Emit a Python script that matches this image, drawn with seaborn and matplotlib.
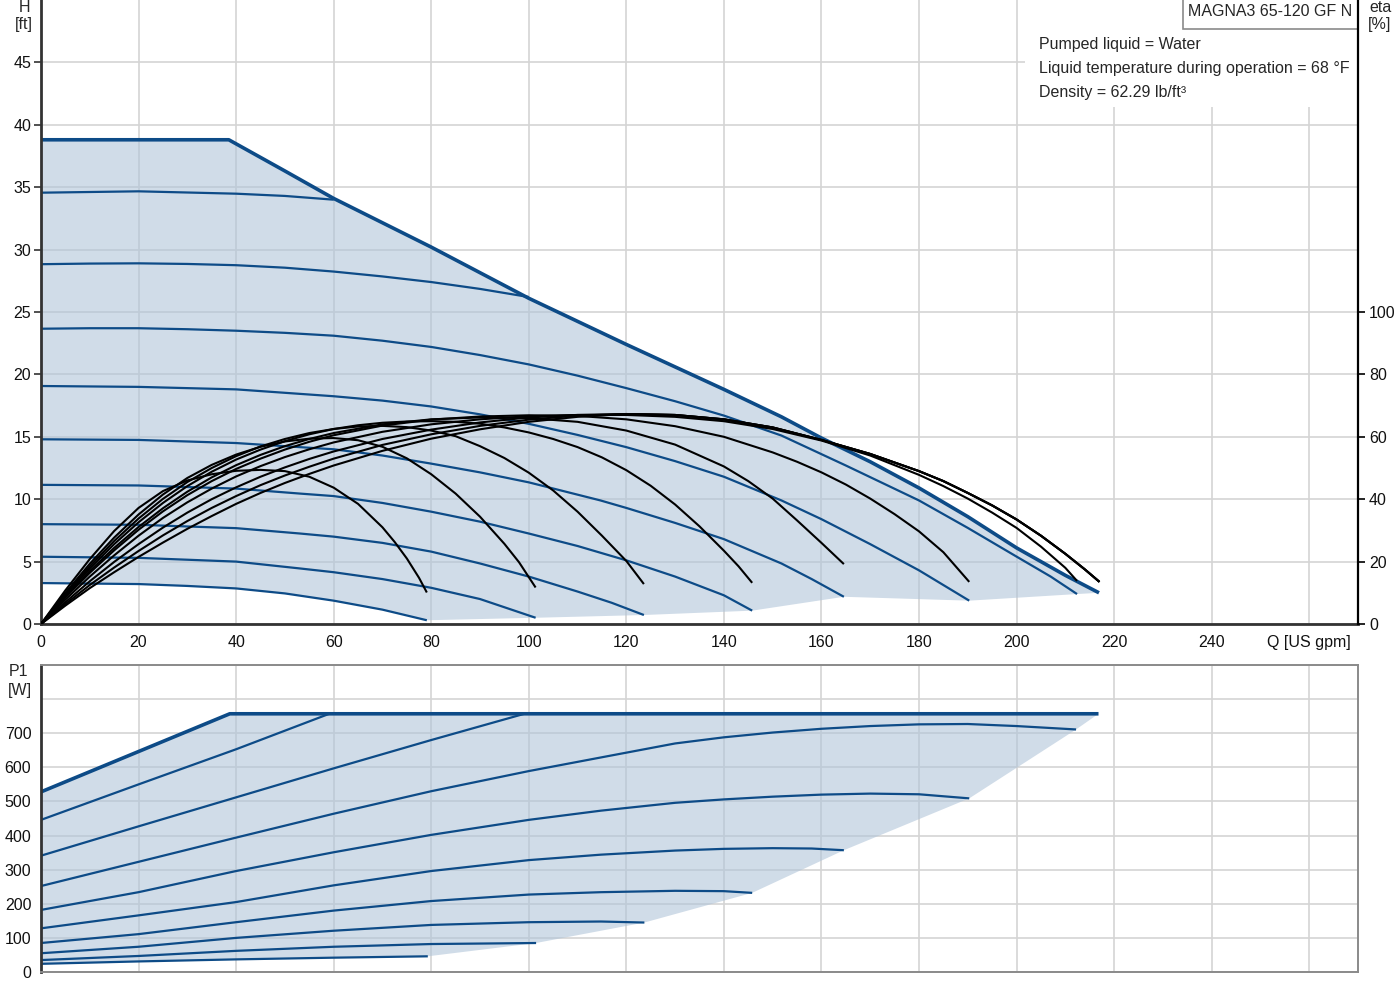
import matplotlib
matplotlib.use("Agg")
import matplotlib.pyplot as plt
import seaborn as sns
from matplotlib.patches import Rectangle

# ---- QH curves (flow in US gpm, head in ft) ----
q_max = [0, 38.5, 50, 60, 80, 100, 120, 140, 151.8, 160, 170, 180, 190, 200, 210, 216.9]
h_max = [38.8, 38.8, 36.3, 34.1, 30.2, 26.1, 22.4, 18.8, 16.6, 14.9, 13.0, 10.9, 8.6, 6.1, 3.9, 2.5]

q_h9 = [0, 20, 40, 50, 60]
h_9 = [34.56, 34.67, 34.48, 34.3, 34.0]
q_h8 = [0, 10, 20, 30, 40, 50, 60, 70, 80, 90, 100]
h_8 = [28.83, 28.88, 28.9, 28.85, 28.75, 28.55, 28.24, 27.85, 27.4, 26.85, 26.2]
q_h7 = [0, 10, 20, 30, 40, 50, 60, 70, 80, 90, 100, 110, 120, 130, 140, 151.8, 165, 180, 190, 200, 207, 212.4]
h_7 = [23.66, 23.7, 23.7, 23.62, 23.5, 23.33, 23.1, 22.7, 22.2, 21.55, 20.8, 19.9, 18.9, 17.85,
       16.7, 15.1, 12.7, 9.9, 7.7, 5.4, 3.8, 2.4]
q_h6 = [0, 20, 40, 53.1, 60, 70, 80, 90, 100, 110, 120, 130, 140, 151.8, 160, 170, 180, 190.3]
h_6 = [19.07, 19.0, 18.8, 18.44, 18.25, 17.9, 17.43, 16.8, 16.04, 15.15, 14.17, 13.05, 11.8,
       9.9, 8.4, 6.4, 4.3, 1.87]
q_h5 = [0, 20, 40, 53.1, 60, 70, 80, 90, 100, 114.7, 120, 130, 140, 151.8, 158, 164.6]
h_5 = [14.8, 14.75, 14.5, 14.17, 14.0, 13.5, 12.85, 12.15, 11.35, 9.9, 9.3, 8.1, 6.8, 4.85, 3.6, 2.18]
q_h4 = [0, 20, 40, 53.1, 60, 70, 80, 90, 100, 110, 120, 130, 140, 145.8]
h_4 = [11.15, 11.1, 10.85, 10.45, 10.25, 9.7, 9.0, 8.2, 7.25, 6.25, 5.1, 3.8, 2.3, 1.07]
q_h3 = [0, 20, 40, 53.1, 60, 70, 80, 90, 100, 110, 117, 123.6]
h_3 = [8.0, 7.95, 7.68, 7.25, 7.0, 6.5, 5.8, 4.85, 3.8, 2.6, 1.7, 0.72]
q_h2 = [0, 20, 40, 53.1, 60, 70, 80, 90, 101.4]
h_2 = [5.39, 5.3, 5.0, 4.45, 4.15, 3.6, 2.9, 2.0, 0.5]
q_h1 = [0, 20, 30, 40, 50, 60, 70, 79.1]
h_1 = [3.28, 3.2, 3.05, 2.85, 2.45, 1.87, 1.15, 0.3]

# ---- efficiency curves (eta %) ----
q_e1 = [0, 5, 10, 15, 20, 25, 30, 35, 40, 45, 50, 55, 60, 65, 70, 72.5, 75, 77.5, 79.1]
eta_1 = [0, 10.8, 20.8, 29.8, 37.2, 42.6, 46.0, 48.0, 49.1, 49.4, 49.0, 47.2, 43.7, 38.5, 31.0,
         26.3, 21.0, 14.8, 10.1]
q_e2 = [0, 5, 10, 15, 20, 25, 30, 35, 40, 45, 50, 55, 60, 65, 70, 75, 80, 85, 90, 95, 98, 101.4]
eta_2 = [0, 10.0, 19.3, 27.7, 35.1, 41.5, 46.8, 51.0, 54.3, 56.8, 58.5, 59.4, 59.6, 58.9, 56.8,
         53.1, 48.0, 41.8, 34.4, 25.7, 19.8, 11.7]
q_e3 = [0, 5, 10, 15, 20, 25, 30, 35, 40, 45, 50, 55, 60, 65, 70, 75, 80, 85, 90, 95, 100, 105,
        110, 115, 120, 123.6]
eta_3 = [0, 9.6, 18.5, 26.6, 33.8, 40.1, 45.5, 50.0, 53.8, 56.9, 59.3, 61.2, 62.5, 63.3, 63.5,
         63.1, 62.0, 60.2, 57.0, 53.2, 48.5, 42.8, 36.0, 28.3, 20.2, 12.8]
q_e4 = [0, 5, 10, 15, 20, 25, 30, 35, 40, 45, 50, 55, 60, 65, 70, 75, 80, 85, 90, 95, 100, 105,
        110, 115, 120, 125, 130, 135, 140, 143, 145.8]
eta_4 = [0, 9.2, 17.8, 25.6, 32.6, 38.8, 44.2, 48.8, 52.7, 55.9, 58.6, 60.8, 62.5, 63.7, 64.5,
         64.9, 65.0, 64.8, 64.2, 63.0, 61.4, 59.3, 56.7, 53.4, 49.3, 44.3, 38.3, 31.3, 23.5,
         18.5, 13.2]
q_e5 = [0, 5, 10, 15, 20, 25, 30, 35, 40, 45, 50, 55, 60, 70, 80, 90, 100, 110, 120, 130, 140,
        145, 150, 155, 160, 164.6]
eta_5 = [0, 8.8, 17.0, 24.4, 31.1, 37.1, 42.4, 47.0, 50.9, 54.2, 57.0, 59.3, 61.2, 64.0, 65.6,
         66.2, 66.0, 64.8, 62.0, 57.5, 50.5, 45.8, 40.2, 33.2, 26.0, 19.2]
q_e6 = [0, 5, 10, 15, 20, 25, 30, 35, 40, 45, 50, 55, 60, 70, 80, 90, 100, 110, 120, 130, 140,
        150, 155, 160, 165, 170, 175, 180, 185, 190.3]
eta_6 = [0, 8.5, 16.4, 23.6, 30.2, 36.1, 41.3, 45.8, 49.7, 53.0, 55.9, 58.4, 60.5, 63.6, 65.5,
         66.5, 66.9, 66.7, 65.6, 63.4, 60.0, 55.0, 52.0, 48.6, 44.7, 40.2, 35.2, 29.7, 23.0, 13.5]
q_e7 = [0, 5, 10, 15, 20, 25, 30, 35, 40, 45, 50, 55, 60, 70, 80, 90, 100, 110, 120, 130, 140,
        150, 160, 170, 180, 185, 190, 195, 200, 205, 210, 212.4]
eta_7 = [0, 7.8, 15.2, 22.0, 28.3, 34.0, 39.0, 43.4, 47.3, 50.6, 53.5, 56.0, 58.2, 61.6, 64.0,
         65.6, 66.6, 67.0, 67.0, 66.4, 65.0, 62.5, 58.8, 54.0, 47.8, 44.2, 40.2, 35.7, 30.8,
         24.8, 18.0, 13.8]
q_e8 = [0, 5, 10, 15, 20, 25, 30, 35, 40, 45, 50, 55, 60, 70, 80, 90, 100, 110, 120, 130, 140,
        150, 160, 170, 180, 185, 190, 195, 200, 205, 210, 214, 217]
eta_8 = [0, 7.0, 13.7, 19.9, 25.6, 30.9, 35.7, 40.0, 43.8, 47.2, 50.2, 52.9, 55.3, 59.3, 62.3,
         64.6, 66.2, 67.0, 67.3, 67.0, 65.6, 63.0, 59.0, 54.5, 49.0, 45.8, 42.0, 38.0, 33.5,
         28.3, 22.5, 17.5, 13.5]
eta_9 = [0, 6.4, 12.5, 18.1, 23.4, 28.4, 33.0, 37.2, 41.0, 44.5, 47.6, 50.4, 53.0, 57.4, 60.8,
         63.5, 65.5, 66.8, 67.3, 67.0, 65.6, 63.0, 59.0, 54.5, 49.0, 45.8, 42.0, 38.0, 33.5,
         28.3, 22.5, 17.5, 13.5]
eta_max = [0, 5.9, 11.5, 16.6, 21.5, 26.1, 30.5, 34.6, 38.5, 42.0, 45.2, 48.1, 50.8, 55.5, 59.4,
           62.4, 64.8, 66.4, 67.3, 67.0, 65.6, 63.0, 59.0, 54.5, 49.0, 45.8, 42.0, 38.0, 33.5,
           28.3, 22.5, 17.5, 13.5]

# ---- power curves (P1 in W) ----
q_pmax = [0, 38.7, 216.8]
p_max = [528, 757, 757]
q_p9 = [0, 20, 40, 59.1]
p_9 = [446, 550, 653, 757]
q_p8 = [0, 20, 40, 60, 80, 99.1]
p_8 = [341, 427, 512, 597, 680, 757]
q_p7 = [0, 20, 40, 60, 80, 100, 114.8, 130, 140, 150, 160, 170, 180, 190, 200, 212.2]
p_7 = [252, 323, 394, 464, 530, 589, 629, 670, 688, 702, 713, 721, 726, 727, 721, 711]
q_p6 = [0, 20, 40, 60, 80, 100, 114.8, 130, 140, 150, 160, 170, 180, 190.3]
p_6 = [182, 234, 296, 351, 402, 446, 473, 496, 506, 514, 520, 523, 521, 509]
q_p5 = [0, 20, 40, 60, 80, 100, 114.8, 130, 140, 150, 158, 164.6]
p_5 = [128, 166, 205, 254, 296, 328, 344, 356, 361, 363, 362, 357]
q_p4 = [0, 20, 40, 60, 80, 100, 114.8, 130, 140, 145.8]
p_4 = [85, 111, 146, 180, 208, 227, 234, 238, 237, 232]
q_p3 = [0, 20, 40, 60, 80, 100, 114.8, 123.7]
p_3 = [55, 74, 100, 121, 138, 146, 148, 145]
q_p2 = [0, 20, 40, 60, 80, 101.5]
p_2 = [35, 47, 62, 74, 82, 85]
q_p1 = [0, 20, 40, 60, 79.3]
p_1 = [24, 31, 37, 42, 46]

x_ticks = list(range(0, 261, 20))
x_labels = [str(v) for v in range(0, 241, 20)] + ["Q [US gpm]"]
info_lines = ["Pumped liquid = Water",
              "Liquid temperature during operation = 68 \u00b0F",
              "Density = 62.29 lb/ft\u00b3"]
pump_name = "MAGNA3 65-120 GF N"

BLUE = "#0d4b87"
FILL = "#b1c5d9"
GRID = "#d4d4d4"
DARK = "#333333"

sns.set_style("white")
plt.rcParams["font.family"] = ["Liberation Sans", "DejaVu Sans"]
plt.rcParams["font.size"] = 11.5


def draw(ax, q, v, color, lw):
    sns.lineplot(x=q, y=v, ax=ax, color=color, linewidth=lw,
                 estimator=None, sort=False, legend=False,
                 solid_capstyle="butt", solid_joinstyle="round")


fig = plt.figure(figsize=(14, 10), dpi=100)
ax = fig.add_axes([41 / 1400, 0.376, 1317 / 1400, 0.624])
axb = fig.add_axes([41 / 1400, 0.028, 1317 / 1400, 0.307])

# ---------------- top panel: H ----------------
h_curves = [(q_h9, h_9), (q_h8, h_8), (q_h7, h_7), (q_h6, h_6), (q_h5, h_5),
            (q_h4, h_4), (q_h3, h_3), (q_h2, h_2), (q_h1, h_1)]
ends = [(q_h7, h_7), (q_h6, h_6), (q_h5, h_5), (q_h4, h_4), (q_h3, h_3), (q_h2, h_2)]
poly_q = list(q_max) + [q[-1] for q, _ in ends] + q_h1[::-1]
poly_h = list(h_max) + [h[-1] for _, h in ends] + h_1[::-1]
ax.fill(poly_q, poly_h, color=FILL, alpha=0.6, lw=0, zorder=1)

for q, h in h_curves:
    draw(ax, q, h, BLUE, 1.6)
draw(ax, q_max, h_max, BLUE, 2.6)

ax.set_xlim(0, 270)
ax.set_ylim(0, 50)
ax.set_xticks(x_ticks)
ax.set_xticklabels(x_labels)
ax.set_yticks(range(0, 46, 5))
ax.set_xlabel("")
ax.set_ylabel("")
ax.grid(True, color=GRID, lw=1.2)
ax.set_axisbelow(True)
ax.tick_params(direction="out", length=5, width=1.2, color=DARK,
               labelsize=11.5, labelcolor="#111111", pad=3)
ax.tick_params(axis="y", pad=2)
for s in ["top", "right"]:
    ax.spines[s].set_visible(False)
for s in ["left", "bottom"]:
    ax.spines[s].set_color(DARK)
    ax.spines[s].set_linewidth(2)

# white area behind the liquid info and the pump name box
ax.add_patch(Rectangle((0.747, 0.8285), 0.253, 0.1715, transform=ax.transAxes,
                       fc="white", ec="none", zorder=3))
ax.add_patch(Rectangle((0.867, 0.9535), 0.133, 0.06, transform=ax.transAxes,
                       fc="white", ec="#8a8a8a", lw=1.2, zorder=4, clip_on=False))
fig.text(1270 / 1400, 1 - 12 / 1000, pump_name, ha="center", va="center",
         fontsize=11.5, zorder=6)
for i, line in enumerate(info_lines):
    fig.text(1039 / 1400, 1 - (44 + 24 * i) / 1000, line, ha="left",
             va="center", fontsize=11.5, zorder=6)

# efficiency on twin axis
ax2 = ax.twinx()
eta_curves = [(q_e1, eta_1), (q_e2, eta_2), (q_e3, eta_3), (q_e4, eta_4),
              (q_e5, eta_5), (q_e6, eta_6), (q_e7, eta_7), (q_e8, eta_8),
              (q_e8, eta_9), (q_e8, eta_max)]
for q, e in eta_curves:
    draw(ax2, q, e, "black", 1.5)
ax2.set_ylim(0, 200)
ax2.set_xlim(0, 270)
ax2.set_yticks(range(0, 101, 20))
ax2.set_ylabel("")
ax2.tick_params(direction="out", length=5, width=1.2, color="black",
                labelsize=11.5, labelcolor="#111111", pad=3)
for s in ["top", "left", "bottom"]:
    ax2.spines[s].set_visible(False)
ax2.spines["right"].set_color("black")
ax2.spines["right"].set_linewidth(1.6)

fig.text(24 / 1400, 1 - 8 / 1000, "H", ha="center", va="center", fontsize=11.5)
fig.text(24 / 1400, 1 - 25 / 1000, "[ft]", ha="center", va="center", fontsize=11.5)
fig.text(1380 / 1400, 1 - 7 / 1000, "eta", ha="center", va="center", fontsize=11.5)
fig.text(1380 / 1400, 1 - 25 / 1000, "[%]", ha="center", va="center", fontsize=11.5)

# ---------------- bottom panel: P1 ----------------
p_curves = [(q_p9, p_9), (q_p8, p_8), (q_p7, p_7), (q_p6, p_6), (q_p5, p_5),
            (q_p4, p_4), (q_p3, p_3), (q_p2, p_2), (q_p1, p_1)]
p_ends = [(q_p2, p_2), (q_p3, p_3), (q_p4, p_4), (q_p5, p_5), (q_p6, p_6), (q_p7, p_7)]
pq = q_p1 + [q[-1] for q, _ in p_ends] + q_pmax[::-1]
pp = p_1 + [p[-1] for _, p in p_ends] + p_max[::-1]
axb.fill(pq, pp, color=FILL, alpha=0.6, lw=0, zorder=1)
for q, p in p_curves:
    draw(axb, q, p, BLUE, 1.6)
draw(axb, q_pmax, p_max, BLUE, 2.6)

axb.set_xlim(0, 270)
axb.set_ylim(0, 900)
axb.set_xticks(x_ticks)
axb.set_xticklabels([])
axb.set_yticks(range(0, 901, 100))
axb.set_yticklabels([str(v) for v in range(0, 701, 100)] + ["", ""])
axb.set_xlabel("")
axb.set_ylabel("")
axb.grid(True, color=GRID, lw=1.2)
axb.set_axisbelow(True)
axb.tick_params(axis="y", direction="out", length=5, width=1.2, color=DARK,
                labelsize=11.5, labelcolor="#111111", pad=2)
axb.tick_params(axis="x", length=0)
for s in ["top", "right", "bottom"]:
    axb.spines[s].set_color("#8a8a8a")
    axb.spines[s].set_linewidth(1.4)
axb.spines["left"].set_color(DARK)
axb.spines["left"].set_linewidth(2)

fig.text(19 / 1400, 1 - 672 / 1000, "P1", ha="center", va="center", fontsize=11.5)
fig.text(20 / 1400, 1 - 690 / 1000, "[W]", ha="center", va="center", fontsize=11.5)

fig.savefig("out.png", dpi=100)
